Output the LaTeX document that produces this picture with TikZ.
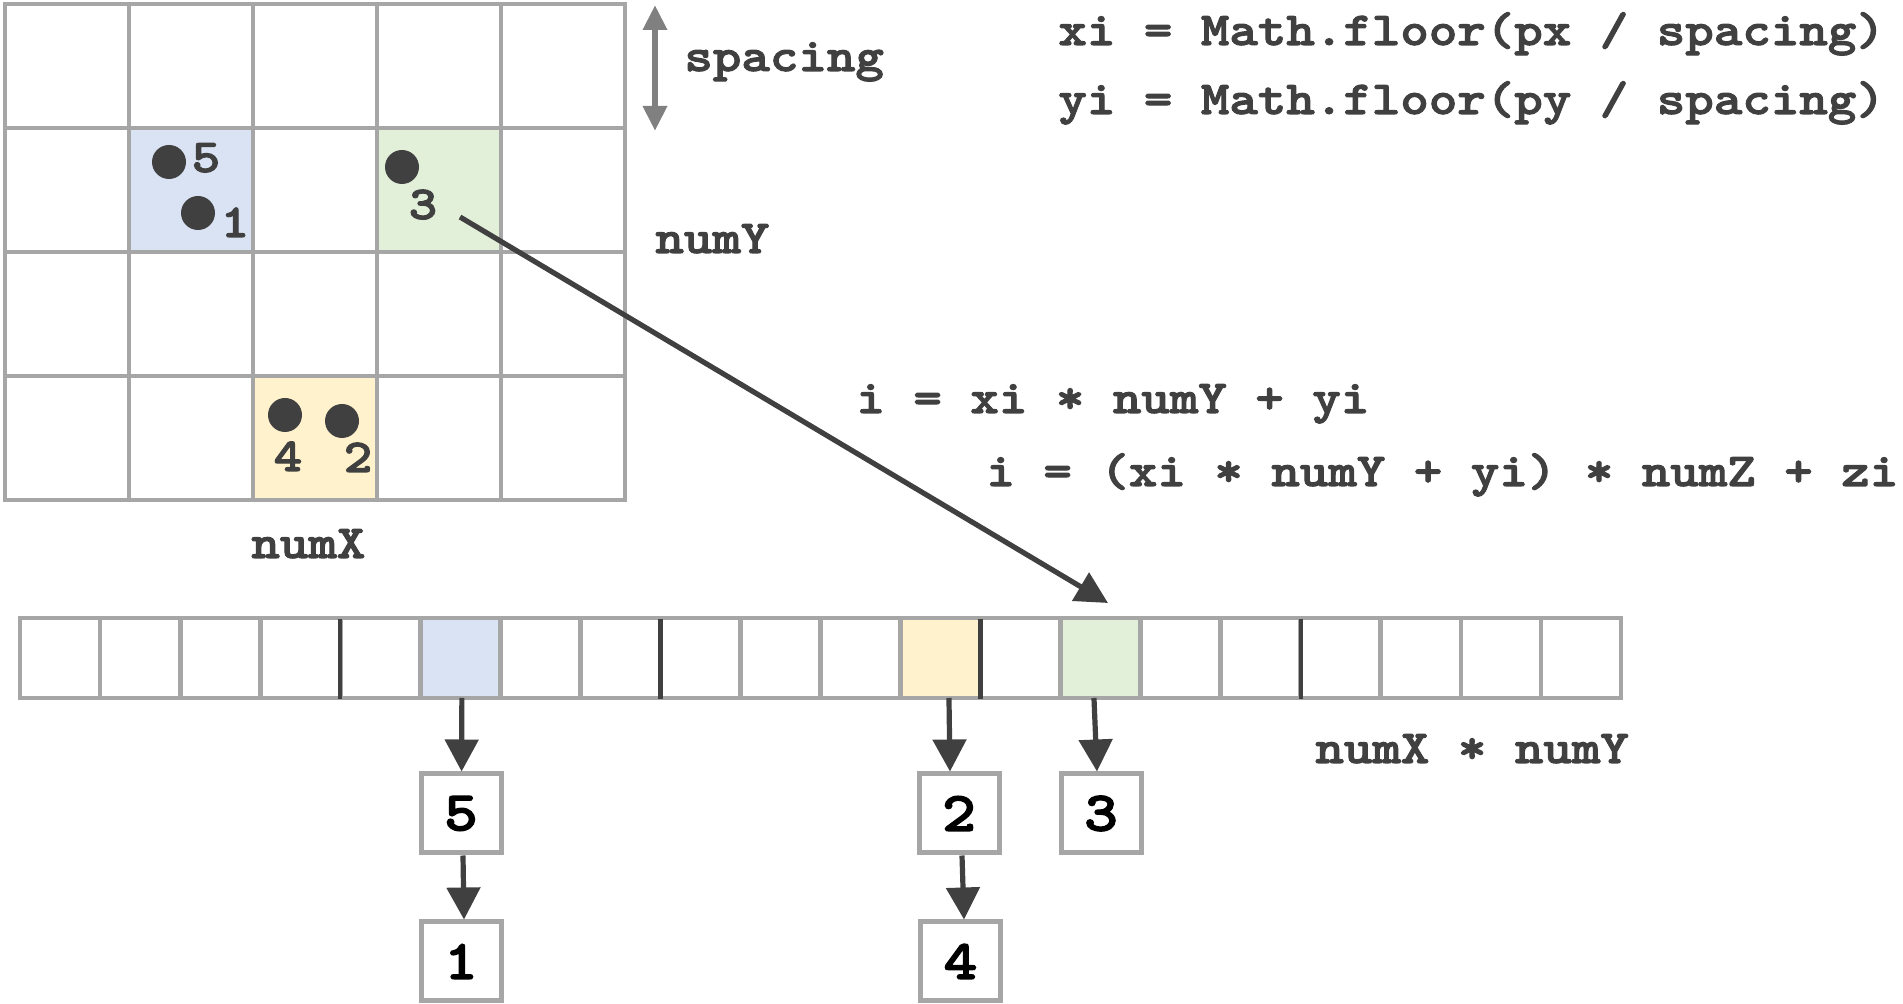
\documentclass[tikz,border=0pt]{standalone}
\usepackage{fontspec}
\newfontfamily\codefont{lmmonolt10-bold.otf}[FakeStretch=1.15,FakeBold=2.2]
\usetikzlibrary{arrows.meta}
\definecolor{gridgray}{HTML}{A6A6A6}
\definecolor{ink}{HTML}{404040}
\definecolor{spangray}{HTML}{808080}
\definecolor{cellblue}{HTML}{DAE3F3}
\definecolor{cellgreen}{HTML}{E2F0D9}
\definecolor{cellyellow}{HTML}{FFF2CC}
\begin{document}
\begin{tikzpicture}[x=0.5pt,y=-0.5pt,
  code/.style={font=\codefont\fontsize{23.6pt}{28pt}\selectfont, text=ink, inner sep=0pt},
  gridline/.style={draw=gridgray, line width=2.4pt},
  dot/.style={circle, fill=ink, minimum size=17pt, inner sep=0pt},
  cellbox/.style={rectangle, draw=gridgray, line width=2.4pt, minimum width=40.025pt, minimum height=40pt, inner sep=0pt, outer sep=0pt},
  sepline/.style={draw=ink, line width=2.2pt},
  listbox/.style={rectangle, draw=gridgray, line width=2.5pt, minimum width=40pt, minimum height=39.5pt, inner sep=0pt,
    font=\codefont\fontsize{28pt}{30pt}\selectfont, text=black},
  listarrow/.style={draw=ink, line width=2.6pt, -{Triangle[length=16pt,width=16.5pt]}},
  bigarrow/.style={draw=ink, line width=2.6pt, -{Triangle[length=16pt,width=16pt]}},
  spanarrow/.style={draw=spangray, line width=3.2pt, {Triangle[length=12.5pt,width=11.5pt]}-{Triangle[length=12.5pt,width=11.5pt]}}]
\useasboundingbox (0,0) rectangle (1903,1004);

% occupied grid cells
\fill[cellblue]   (129,128) rectangle (253,252);
\fill[cellgreen]  (377,128) rectangle (501,252);
\fill[cellyellow] (253,376) rectangle (377,500);

% 5 x 4 spatial grid
\foreach \k in {1,...,4} \draw[gridline] ({5+124*\k},4) -- ({5+124*\k},500);
\foreach \k in {1,2,3} \draw[gridline] (5,{4+124*\k}) -- (625,{4+124*\k});
\draw[gridline] (5,4) rectangle (625,500);

% particles and their ids
\node[dot] (p5) at (169,162) {};
\node[dot] (p1) at (198,213) {};
\node[dot] (p3) at (402,167) {};
\node[dot] (p4) at (285,415) {};
\node[dot] (p2) at (342,421) {};
\node[code, anchor=base] (l5) at (206,172) {5};
\node[code, anchor=base] (l1) at (235,237) {1};
\node[code, anchor=base] (l3) at (423,219) {3};
\node[code, anchor=base] (l4) at (288,471) {4};
\node[code, anchor=base] (l2) at (358,472) {2};

% cell size marker
\coordinate (spTop) at (655,5);
\coordinate (spBot) at (655,131);
\draw[spanarrow] (spTop) -- (spBot);
\node[code, anchor=base west] (spacingLbl) at (684,71) {spacing};
\node[code, anchor=base west] (numYLbl) at (655,253) {numY};
\node[code, anchor=base west] (numXLbl) at (251,558) {numX};

% formulas
\node[code, anchor=base west] (fx) at (1058,45) {xi = Math.floor(px / spacing)};
\node[code, anchor=base west] (fy) at (1058,114) {yi = Math.floor(py / spacing)};
\node[code, anchor=base west] (f2d) at (856,413) {i = xi * numY + yi};
\node[code, anchor=base west] (f3d) at (986,486) {i = (xi * numY + yi) * numZ + zi};

% flat cell array
\fill[cellblue]   ({20+80.05*5},618) rectangle ({20+80.05*6},698);
\fill[cellyellow] ({20+80.05*11},618) rectangle ({20+80.05*12},698);
\fill[cellgreen]  ({20+80.05*13},618) rectangle ({20+80.05*14},698);
\foreach \i in {0,...,19} \node[cellbox] (c\i) at ({20+80.05*\i+40.025},658) {};
\foreach \k in {4,8,12,16} \draw[sepline] ([yshift=-0.5pt]c\k.north west) -- ([yshift=-0.5pt]c\k.south west);
\node[code, anchor=base west] (sizeLbl) at (1315,763) {numX * numY};

% linked lists of particle ids
\node[listbox] (b5) at (461,813.5) {5};
\node[listbox] (b1) at (461,961.5) {1};
\node[listbox] (b2) at (959,813.5) {2};
\node[listbox] (b4) at (960.5,961.5) {4};
\node[listbox] (b3) at (1101,813.5) {3};

\draw[listarrow] ([xshift=0.8pt]c5.south) -- ([xshift=0.3pt]b5.north);
\draw[listarrow] ([xshift=1pt]b5.south) -- ([xshift=1.5pt]b1.north);
\draw[listarrow] ([xshift=4.2pt]c11.south) -- ([xshift=-4.5pt]b2.north);
\draw[listarrow] ([xshift=1.5pt]b2.south) -- ([xshift=1.75pt]b4.north);
\draw[listarrow] ([xshift=-3.35pt]c13.south) -- ([xshift=-2pt]b3.north);

% cell 3 maps to array slot 13
\coordinate (dStart) at (460,217);
\coordinate (dEnd) at (1108,603);
\draw[bigarrow] (dStart) -- (dEnd);
\end{tikzpicture}
\end{document}
